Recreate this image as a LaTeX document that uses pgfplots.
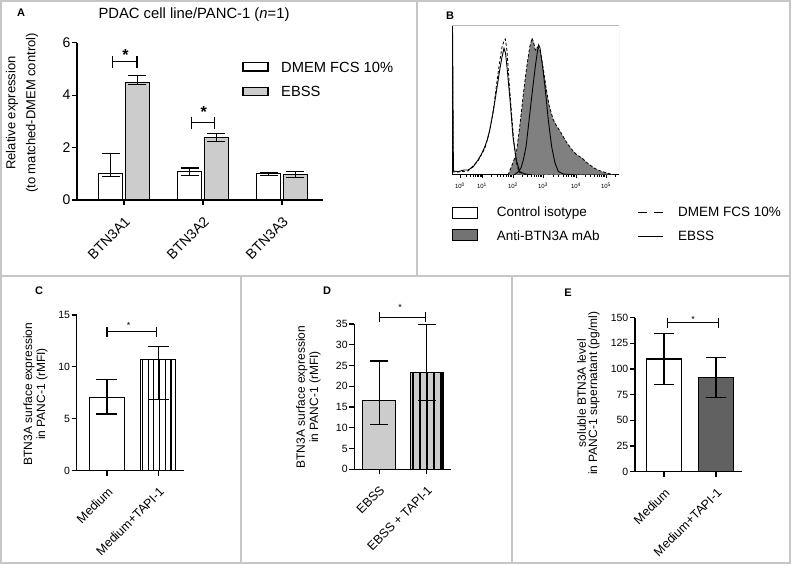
\documentclass[border=0pt]{standalone}
\usepackage{fontspec}
\setmainfont{Liberation Sans}
\usepackage{pgfplots}
\pgfplotsset{compat=1.18}
\usetikzlibrary{patterns.meta}

\newcommand{\fs}[1]{\fontsize{#1}{#1}\selectfont}

\pgfplotsset{
  barpanel/.style={
    scale only axis, anchor=south west,
    axis lines=left, axis line style={-, line width=1.1pt},
    tick style={line width=1.1pt, black}, tick align=outside,
    major tick length=5pt,
    ymin=0, clip=false,
    /pgf/number format/assume math mode=true,
    xticklabel shift=9pt,
    xticklabel style={rotate=45, anchor=north east, inner sep=1pt},
    yticklabel style={inner sep=1.5pt},
  },
  ebar/.style={
    /pgfplots/error bars/y dir=both,
    /pgfplots/error bars/y explicit,
    /pgfplots/error bars/error bar style={line width=1.1pt, black, solid},
    /pgfplots/error bars/error mark options={line width=1.1pt, black, mark size=#1, rotate=90},
  },
}

\begin{document}
\begin{tikzpicture}
\useasboundingbox (0pt,0pt) rectangle (792pt,565pt);

% panel frames and all free text, in pixel coordinates (y downwards)
\begin{scope}[shift={(0pt,565pt)}, x=1pt, y=-1pt]
  \draw[gray!45, line width=1.3pt] (1,1) rectangle (790,563);
  \draw[gray!45, line width=1.3pt] (1,276) -- (790,276);
  \draw[gray!45, line width=1.3pt] (417,1) -- (417,276);
  \draw[gray!45, line width=1.3pt] (241,276) -- (241,563);
  \draw[gray!45, line width=1.3pt] (512,276) -- (512,563);

  \node[font=\bfseries\fs{11}] at (21,13) {A};
  \node[font=\bfseries\fs{11}] at (450,15.7) {B};
  \node[font=\bfseries\fs{11}] at (39,290.7) {C};
  \node[font=\bfseries\fs{11}] at (327,290.7) {D};
  \node[font=\bfseries\fs{11}] at (568,293) {E};

  % A
  \node[font=\fs{14.8}] at (194,15) {PDAC cell line/PANC-1 (\textit{n}=1)};
  \node[font=\fs{13}, rotate=90] at (12,113) {Relative expression};
  \node[font=\fs{13}, rotate=90] at (32,113) {(to matched-DMEM control)};
  \draw[line width=1.1pt, fill=white] (243,62.7) rectangle (268,71);
  \draw[line width=1.1pt, fill=gray!40] (243,87.3) rectangle (268,95.7);
  \node[font=\fs{14.7}, anchor=base west, inner sep=0pt] at (281,72.3) {DMEM FCS 10\%};
  \node[font=\fs{14.7}, anchor=base west, inner sep=0pt] at (281,96.8) {EBSS};

  % B legend
  \draw[line width=1pt, fill=white] (452.3,207.3) rectangle (477.7,219);
  \draw[line width=1pt, fill=black!55] (452.3,230) rectangle (477.7,241);
  \node[font=\fs{13.5}, anchor=base west, inner sep=0pt] at (496.7,216.5) {Control isotype};
  \node[font=\fs{13.5}, anchor=base west, inner sep=0pt] at (496.7,240.6) {Anti-BTN3A mAb};
  \draw[line width=0.9pt, dash pattern=on 9pt off 7pt] (638,212.5) -- (663,212.5);
  \draw[line width=0.9pt] (638,236.5) -- (663,236.5);
  \node[font=\fs{13.5}, anchor=base west, inner sep=0pt] at (678,216.5) {DMEM FCS 10\%};
  \node[font=\fs{13.5}, anchor=base west, inner sep=0pt] at (678,240.6) {EBSS};

  % C, D, E axis titles
  \node[font=\fs{12}, rotate=90] at (29,394) {BTN3A surface expression};
  \node[font=\fs{12}, rotate=90] at (42,394) {in PANC-1 (rMFI)};
  \node[font=\fs{12}, rotate=90] at (301.7,397) {BTN3A surface expression};
  \node[font=\fs{12}, rotate=90] at (315,397) {in PANC-1 (rMFI)};
  \node[font=\fs{12}, rotate=90] at (581.7,393.3) {soluble BTN3A level};
  \node[font=\fs{12}, rotate=90] at (594,393.3) {in PANC-1 supernatant (pg/ml)};
\end{scope}

% ---------------- A ----------------
\begin{axis}[barpanel,
  at={(77pt,365pt)}, width=246pt, height=157.3pt,
  xmin=-0.595, xmax=2.519, ymax=6,
  ytick={0,2,4,6},
  xtick={0,1,2}, xticklabels={BTN3A1,BTN3A2,BTN3A3},
  tick label style={font=\fs{14}},
]
\addplot[ybar, bar width=0.30, bar shift=0pt, draw=black, line width=1.1pt, fill=white, ebar=9pt]
  table[x=x, y=y, y error plus=ep, y error minus=em] {
x     y    ep   em
-0.17 1.00 0.78 0.12
0.83  1.07 0.15 0.12
1.83  1.00 0.03 0.08
};
\addplot[ybar, bar width=0.30, bar shift=0pt, draw=black, line width=1.1pt, fill=gray!40, ebar=9pt]
  table[x=x, y=y, y error plus=ep, y error minus=em] {
x     y    ep   em
0.17  4.48 0.28 0.08
1.17  2.37 0.15 0.15
2.17  0.98 0.10 0.13
};
\draw[line width=1.1pt] (axis cs:-0.14,5.28) -- (axis cs:0.165,5.28);
\draw[line width=1.1pt] ([yshift=6pt]axis cs:-0.14,5.28) -- ([yshift=-6pt]axis cs:-0.14,5.28);
\draw[line width=1.1pt] ([yshift=6pt]axis cs:0.165,5.28) -- ([yshift=-6pt]axis cs:0.165,5.28);
\node[font=\bfseries\fs{16}, inner sep=0pt, yshift=-3.5pt] at (axis cs:0.02,5.66) {*};
\draw[line width=1.1pt] (axis cs:0.85,2.95) -- (axis cs:1.15,2.95);
\draw[line width=1.1pt] ([yshift=6pt]axis cs:0.85,2.95) -- ([yshift=-6pt]axis cs:0.85,2.95);
\draw[line width=1.1pt] ([yshift=6pt]axis cs:1.15,2.95) -- ([yshift=-6pt]axis cs:1.15,2.95);
\node[font=\bfseries\fs{16}, inner sep=0pt, yshift=-3.5pt] at (axis cs:1.01,3.5) {*};
\end{axis}

% ---------------- B ----------------
\begin{axis}[scale only axis, anchor=south west,
  at={(452pt,390pt)}, width=167pt, height=150pt,
  xmin=0, xmax=167, ymin=0, ymax=150,
  axis x line*=bottom, axis y line*=left,
  axis line style={-, line width=1pt},
  ytick=\empty,
  xtick={8,30,61,91,124,154},
  xticklabels={10\textsuperscript{0},10\textsuperscript{1},10\textsuperscript{2},10\textsuperscript{3},10\textsuperscript{4},10\textsuperscript{5}},
  minor xtick={14.6,18.5,21.2,23.4,25.1,26.6,27.9,29.0,
    39.3,44.8,48.7,51.7,54.1,56.2,58.0,59.6,
    70.0,75.3,79.1,82.0,84.3,86.4,88.1,89.6,
    100.9,106.7,110.9,114.1,116.7,118.9,120.8,122.5,
    133.0,138.3,142.1,145.0,147.3,149.4,151.1,152.6,163.0},
  tick align=outside, major tick length=3.5pt, minor tick length=2pt,
  tick style={black, line width=0.6pt},
  xticklabel style={font=\fs{6}, inner sep=1pt, yshift=-3pt},
]
% anti-BTN3A, DMEM FCS 10%
\addplot[fill=black!50, draw=black, line width=0.8pt, dash pattern=on 3pt off 2pt] table {
x y
56 0
59.3 8
62 15
64.3 22
67.7 48
71 78
74.3 105
77.7 128
80 137
81.5 133
83.3 125
85.3 128
88 125
91 108
94 88
97 70
101 56
104 50
108 44
112 37
115 32
121 24
125 20
130 17
134 13
138 10
142 7
146 5
150 3.5
155 2
162 0
} \closedcycle;
% control isotype, DMEM FCS 10%
\addplot[draw=black, line width=0.8pt, dash pattern=on 3pt off 2pt] table {
x y
0 0
0.4 142
1.2 3
6 3
16 4
26 14
33 27
38 45
41.5 66
44.5 90
47.5 112
50 128
52 134
53.3 136
55 124
57 95
59.5 62
62 32
64.5 12
67 3
72 1
80 0
};
% control isotype, EBSS
\addplot[draw=black, line width=0.9pt] table {
x y
0 0
0.6 142
1.4 4
6 3.3
12 5
16 5
21 8
26 15
29.5 21
32.7 28
35.5 36
37.7 45
41 62
44.3 83
47.7 105
50 118
52 126.7
53.5 122
55.3 105
58.3 72
61 38
64.3 15
67.7 3.3
73 1
80 0
};
% anti-BTN3A, EBSS
\addplot[draw=black, line width=0.9pt] table {
x y
62 0
66 3
69 7
71.3 15
74 28
76.3 48
79 72
81.3 92
83.5 110
85.5 124
86.7 130
88 127
90 113
93 88
96.3 55
99.7 28
103 12
106.3 3.5
111.3 1
125 0
167 0
};
\draw[gray!55, line width=0.8pt] (rel axis cs:0,1) -- (rel axis cs:1,1) -- (rel axis cs:1,0);
\end{axis}

% ---------------- C ----------------
\begin{axis}[barpanel,
  at={(76.7pt,94.3pt)}, width=107.3pt, height=155.7pt,
  xmin=-0.59, xmax=1.5, ymax=15,
  ytick={0,5,10,15},
  xtick={0,1}, xticklabels={Medium,Medium+TAPI-1},
  yticklabel style={font=\fs{10.5}},
  xticklabel style={font=\fs{12.5}},
]
\addplot[ybar, bar width=0.68, bar shift=0pt, draw=black, line width=1.1pt, fill=white, ebar=10.5pt]
  table[x=x, y=y, y error plus=ep, y error minus=em] {
x y ep em
0 7.03 1.77 1.57
};
\addplot[ybar, bar width=0.68, bar shift=0pt, draw=black, line width=1.1pt, fill=white,
  postaction={pattern={Lines[angle=90, distance=5.7pt, line width=1.1pt]}}, ebar=10.5pt]
  table[x=x, y=y, y error plus=ep, y error minus=em] {
x y ep em
1 10.69 1.31 3.79
};
\draw[line width=1.1pt] (axis cs:0,13.4) -- (axis cs:0.97,13.4);
\draw[line width=1.1pt] ([yshift=5pt]axis cs:0,13.4) -- ([yshift=-5pt]axis cs:0,13.4);
\draw[line width=1.1pt] ([yshift=5pt]axis cs:0.97,13.4) -- ([yshift=-5pt]axis cs:0.97,13.4);
\node[font=\fs{9}, inner sep=0pt, yshift=-2pt] at (axis cs:0.42,14.2) {*};
\end{axis}

% ---------------- D ----------------
\begin{axis}[barpanel,
  at={(354.3pt,95.7pt)}, width=96.7pt, height=145.3pt,
  xmin=-0.52, xmax=1.51, ymax=35,
  ytick={0,5,...,35},
  xtick={0,1}, xticklabels={EBSS,EBSS + TAPI-1},
  yticklabel style={font=\fs{10.5}},
  xticklabel style={font=\fs{12.5}},
]
\addplot[ybar, bar width=0.685, bar shift=0pt, draw=black, line width=1.1pt, fill=gray!40, ebar=9pt]
  table[x=x, y=y, y error plus=ep, y error minus=em] {
x y ep em
0 16.6 9.5 5.8
};
\addplot[ybar, bar width=0.685, bar shift=0pt, draw=black, line width=1.1pt, fill=gray!40,
  postaction={pattern={Lines[angle=90, distance=7pt, line width=1.1pt]}}, ebar=9pt]
  table[x=x, y=y, y error plus=ep, y error minus=em] {
x y ep em
1 23.3 11.6 6.7
};
\draw[line width=1.1pt] (axis cs:0,36.6) -- (axis cs:0.98,36.6);
\draw[line width=1.1pt] ([yshift=5pt]axis cs:0,36.6) -- ([yshift=-5pt]axis cs:0,36.6);
\draw[line width=1.1pt] ([yshift=5pt]axis cs:0.98,36.6) -- ([yshift=-5pt]axis cs:0.98,36.6);
\node[font=\fs{9}, inner sep=0pt, yshift=-2pt] at (axis cs:0.44,39.6) {*};
\end{axis}

% ---------------- E ----------------
\begin{axis}[barpanel,
  at={(635pt,93.3pt)}, width=106.7pt, height=154pt,
  xmin=-0.558, xmax=1.494, ymax=150,
  ytick={0,25,...,150},
  xtick={0,1}, xticklabels={Medium,Medium+TAPI-1},
  yticklabel style={font=\fs{10.5}},
  xticklabel style={font=\fs{12.5}},
]
\addplot[ybar, bar width=0.67, bar shift=0pt, draw=black, line width=1.1pt, fill=white, ebar=10pt]
  table[x=x, y=y, y error plus=ep, y error minus=em] {
x y ep em
0 109.8 25.0 24.7
};
\addplot[ybar, bar width=0.67, bar shift=0pt, draw=black, line width=1.1pt, fill=black!62, ebar=10pt]
  table[x=x, y=y, y error plus=ep, y error minus=em] {
x y ep em
1 91.9 19.1 19.8
};
\draw[line width=1.1pt] (axis cs:0.07,145) -- (axis cs:1.05,145);
\draw[line width=1.1pt] ([yshift=5pt]axis cs:0.07,145) -- ([yshift=-5pt]axis cs:0.07,145);
\draw[line width=1.1pt] ([yshift=5pt]axis cs:1.05,145) -- ([yshift=-5pt]axis cs:1.05,145);
\node[font=\fs{9}, inner sep=0pt, yshift=-2pt] at (axis cs:0.56,150.5) {*};
\end{axis}
\end{tikzpicture}
\end{document}
